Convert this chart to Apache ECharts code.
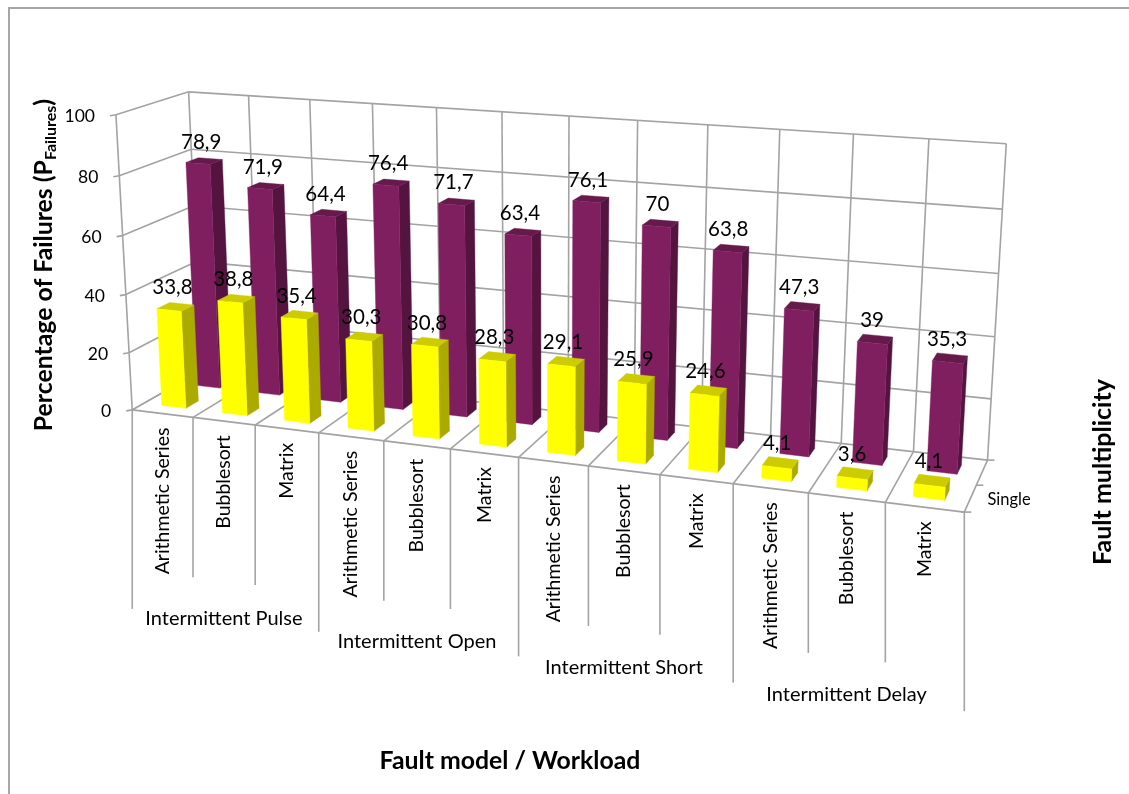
<!DOCTYPE html>
<html>
<head>
<meta charset="utf-8">
<style>html,body{margin:0;padding:0;background:#fff}#c{width:1129px;height:794px}</style>
<script src="https://cdn.jsdelivr.net/npm/echarts@6/dist/echarts.min.js"></script>
</head>
<body>
<div id="c"></div>
<script>
// ---- data ----
const workloads = ['Arithmetic Series','Bubblesort','Matrix','Arithmetic Series','Bubblesort','Matrix','Arithmetic Series','Bubblesort','Matrix','Arithmetic Series','Bubblesort','Matrix'];
const faultModels = ['Intermittent Pulse','Intermittent Open','Intermittent Short','Intermittent Delay'];
const singleValues = [33.8,38.8,35.4,30.3,30.8,28.3,29.1,25.9,24.6,4.1,3.6,4.1];
const backRowValues = [78.9,71.9,64.4,76.4,71.7,63.4,76.1,70,63.8,47.3,39,35.3];
const valueTicks = [0,20,40,60,80,100];
const depthLabel = 'Single';
const titleX = 'Fault model / Workload';
const titleY = 'Percentage of Failures (P';
const titleYSub = 'Failures';
const titleZ = 'Fault multiplicity';

// ---- perspective camera fitted to the plot box corners ----
const FONT = 'Lato, Carlito, "Open Sans", sans-serif';
const GRID = '#a3a3a3';
const anchors = [
  [0,0,0,133,412],[12,0,0,964,511],[12,2,0,988,461],[0,2,0,201,368],
  [12,2,100,1006,143],[0,2,100,188,92],[0,0,100,116,113],[6,0,0,518,458],
  [6,2,100,569,118],[3,2,100,373,105],[9,2,100,780,128]
];
function solve(A,b){
  const n=b.length,M=A.map((r,i)=>r.concat(b[i]));
  for(let c=0;c<n;c++){
    let p=c;for(let r=c+1;r<n;r++)if(Math.abs(M[r][c])>Math.abs(M[p][c]))p=r;
    [M[c],M[p]]=[M[p],M[c]];
    for(let r=0;r<n;r++){if(r===c)continue;const f=M[r][c]/M[c][c];for(let k=c;k<=n;k++)M[r][k]-=f*M[c][k];}
  }
  return M.map((r,i)=>r[n]/r[i]);
}
const cam=(function(){
  const rows=[],rhs=[];
  anchors.forEach(a=>{
    const X=a[0]/12,Y=a[1]/2,Z=a[2]/100,x=a[3]/1000,y=a[4]/1000;
    rows.push([X,Y,Z,1,0,0,0,0,-x*X,-x*Y,-x*Z]);rhs.push(x);
    rows.push([0,0,0,0,X,Y,Z,1,-y*X,-y*Y,-y*Z]);rhs.push(y);
  });
  const AtA=[],Atb=[];
  for(let i=0;i<11;i++){AtA.push([]);let s=0;for(let j=0;j<11;j++){let t=0;rows.forEach(r=>t+=r[i]*r[j]);AtA[i].push(t);}
    rows.forEach((r,k)=>s+=r[i]*rhs[k]);Atb.push(s);}
  return solve(AtA,Atb);
})();
function P(u,d,v){
  const X=u/12,Y=d/2,Z=v/100,w=cam[8]*X+cam[9]*Y+cam[10]*Z+1;
  return [1000*(cam[0]*X+cam[1]*Y+cam[2]*Z+cam[3])/w,1000*(cam[4]*X+cam[5]*Y+cam[6]*Z+cam[7])/w];
}
// convert a pixel given by the hidden cartesian axes to (u,v) of the plot box
function uv(pt,cs){return [(pt[0]-cs.x)/cs.width*12,(cs.y+cs.height-pt[1])/cs.height*100];}
function seg(a,b,w){return {type:'line',shape:{x1:a[0],y1:a[1],x2:b[0],y2:b[1]},style:{stroke:GRID,lineWidth:w||1.6}};}
function txt(x,y,t,size,align,rot,extra){
  return {type:'text',x:x,y:y,rotation:rot||0,style:Object.assign({x:0,y:0,text:t,fontFamily:FONT,fontSize:size,fill:'#000',align:align||'center',verticalAlign:'middle'},extra||{})};
}

function renderFrame(params,api){
  const cs=params.coordSys,ch=[];
  valueTicks.forEach(t=>{
    const c=uv(api.coord([0,t]),cs)[1];
    ch.push(seg(P(0,0,c),P(0,2,c)));
    ch.push(seg(P(0,2,c),P(12,2,c)));
    const f=P(0,0,c);
    ch.push(seg([f[0]-6,f[1]+1],f));
  });
  ch.push(seg(P(0,0,0),P(0,0,100)));
  for(let i=0;i<=12;i++){
    ch.push(seg(P(i,2,0),P(i,2,100)));
    ch.push(seg(P(i,0,0),P(i,2,0)));
    const f=P(i,0,0);
    ch.push(seg(f,[f[0],f[1]+(i%3===0?199:160)]));
  }
  ch.push(seg(P(0,0,0),P(12,0,0)));
  [0,1,2].forEach(d=>{const f=P(12,d,0);ch.push(seg([f[0]-(d===0?3:0),f[1]],[f[0]+7,f[1]]));});
  return {type:'group',children:ch};
}
function barRenderer(d0,d1,front,side,top){
  return function(params,api){
    const cs=params.coordSys;
    const idx=api.value(0),val=api.value(1);
    const a=uv(api.coord([idx,0]),cs),b=uv(api.coord([idx,val]),cs);
    const hw=0.4*api.size([1,0])[0]/cs.width*12/2;
    const u0=a[0]-hw,u1=a[0]+hw,v=b[1];
    const poly=(pts,c)=>({type:'polygon',shape:{points:pts},style:{fill:c,stroke:c,lineWidth:0.4}});
    return {type:'group',children:[
      poly([P(u1,d0,0),P(u1,d1,0),P(u1,d1,v),P(u1,d0,v)],side),
      poly([P(u0,d0,v),P(u1,d0,v),P(u1,d1,v),P(u0,d1,v)],top),
      poly([P(u0,d0,0),P(u1,d0,0),P(u1,d0,v),P(u0,d0,v)],front)
    ]};
  };
}
function labelRenderer(d){
  return function(params,api){
    const cs=params.coordSys,idx=api.value(0),val=api.value(1);
    const b=uv(api.coord([idx,val]),cs);
    const p=P(b[0],d,b[1]);
    return txt(p[0]-3,p[1]-19,String(val).replace('.',','),20.5);
  };
}
function renderAxisText(params,api){
  const cs=params.coordSys,ch=[];
  workloads.forEach((w,i)=>{
    const u=uv(api.coord([i,0]),cs)[0],p=P(u,0,0);
    ch.push(txt(p[0],p[1]+14,w,19.5,'right',Math.PI/2));
  });
  faultModels.forEach((m,i)=>{
    const p=P(3*i+1.5,0,0);
    ch.push(txt(p[0],p[1]+197,m,20));
  });
  valueTicks.forEach(t=>{
    const v=uv(api.coord([0,t]),cs)[1],p=P(0,0,v);
    ch.push(txt(p[0]-21,p[1]+1.5,String(t),17.5,'right'));
  });
  ch.push(txt(1009,500,depthLabel,16.5));
  return {type:'group',children:ch};
}

const categories=workloads.map((w,i)=>faultModels[Math.floor(i/3)]+' / '+w);
const chart=echarts.init(document.getElementById('c'),null,{renderer:'canvas'});
chart.setOption({
  animation:false,
  backgroundColor:'#fff',
  grid:{left:133,top:113,width:831,height:299},
  xAxis:{type:'category',data:categories,show:false},
  yAxis:{type:'value',min:0,max:100,interval:20,show:false},
  tooltip:{show:false},
  graphic:[
    {type:'polyline',z:1,shape:{points:[[9,794],[9,8],[1129,8]]},style:{stroke:'#a6a6a6',lineWidth:2,fill:null}},
    {type:'text',z:10,x:44,y:265,rotation:Math.PI/2,style:{
      text:'{m|'+titleY+'}{s|'+titleYSub+'}{m|)}',align:'center',verticalAlign:'middle',fill:'#000',
      rich:{m:{fontFamily:FONT,fontWeight:'bold',fontSize:24.8,fill:'#000',verticalAlign:'middle',lineHeight:30},
            s:{fontFamily:FONT,fontWeight:'bold',fontSize:16,fill:'#000',verticalAlign:'bottom',lineHeight:30}}}},
    {type:'text',z:10,x:510,y:761,style:{text:titleX,fontFamily:FONT,fontWeight:'bold',fontSize:24.8,fill:'#000',align:'center',verticalAlign:'middle'}},
    {type:'text',z:10,x:1103,y:472,rotation:Math.PI/2,style:{text:titleZ,fontFamily:FONT,fontWeight:'bold',fontSize:25,fill:'#000',align:'center',verticalAlign:'middle'}}
  ],
  series:[
    {type:'custom',name:'frame',coordinateSystem:'cartesian2d',z:2,silent:true,data:[[0,0]],renderItem:renderFrame},
    {type:'custom',name:'Multiple',coordinateSystem:'cartesian2d',z:3,silent:true,encode:{x:0,y:1},
     data:backRowValues.map((v,i)=>[i,v]),renderItem:barRenderer(1.32,1.68,'#801F5F','#55143F','#661A4C')},
    {type:'custom',name:'Single',coordinateSystem:'cartesian2d',z:4,silent:true,encode:{x:0,y:1},
     data:singleValues.map((v,i)=>[i,v]),renderItem:barRenderer(0.32,0.68,'#FFFF00','#AAAA00','#CCCC00')},
    {type:'custom',name:'axis text',coordinateSystem:'cartesian2d',z:5,silent:true,data:[[0,0]],renderItem:renderAxisText},
    {type:'custom',name:'labels back',coordinateSystem:'cartesian2d',z:6,silent:true,encode:{x:0,y:1},
     data:backRowValues.map((v,i)=>[i,v]),renderItem:labelRenderer(1.5)},
    {type:'custom',name:'labels front',coordinateSystem:'cartesian2d',z:6,silent:true,encode:{x:0,y:1},
     data:singleValues.map((v,i)=>[i,v]),renderItem:labelRenderer(0.5)}
  ]
});
</script>
</body>
</html>
